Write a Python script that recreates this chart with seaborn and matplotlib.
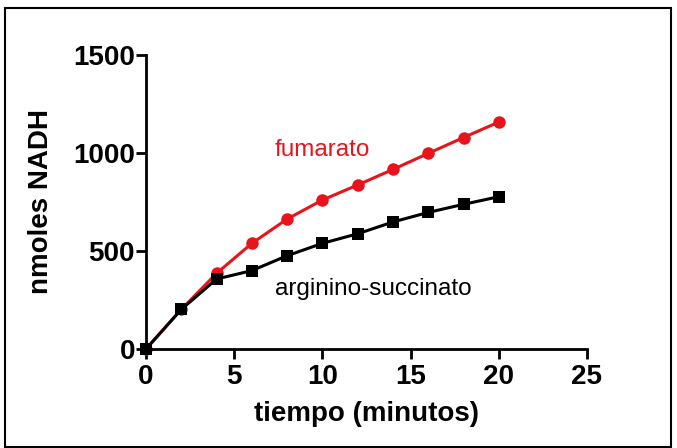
import matplotlib
matplotlib.use("Agg")
import matplotlib.pyplot as plt
import seaborn as sns
import pandas as pd
from matplotlib.patches import Rectangle

tiempo = [0, 2, 4, 6, 8, 10, 12, 14, 16, 18, 20]
fumarato = [0, 202, 386, 539, 663, 760, 837, 916, 998, 1079, 1158]
arginino = [0, 202, 357, 400, 476, 539, 588, 648, 697, 738, 777]
xticks = [0, 5, 10, 15, 20, 25]
yticks = [0, 500, 1000, 1500]

sns.set_theme(style="ticks", rc={"text.color": "black", "axes.labelcolor": "black",
                                 "xtick.color": "black", "ytick.color": "black",
                                 "axes.edgecolor": "black"})
plt.rcParams['font.family'] = ['Liberation Sans', 'DejaVu Sans']

df = pd.DataFrame({
    "tiempo": tiempo * 2,
    "nadh": fumarato + arginino,
    "serie": ["fumarato"] * len(tiempo) + ["arginino-succinato"] * len(tiempo),
})

fig = plt.figure(figsize=(6.77, 4.48), dpi=100)
ax = fig.add_axes([146/677, 1 - 349/448, (587-146)/677, (349-55)/448])

sns.lineplot(data=df, x="tiempo", y="nadh", hue="serie", style="serie",
             palette={"fumarato": "#e8141c", "arginino-succinato": "black"},
             markers={"fumarato": "o", "arginino-succinato": "s"},
             dashes=False, markersize=9, markeredgewidth=0, linewidth=2.2,
             legend=False, ax=ax)
for ln in ax.lines:
    ln.set_clip_on(False)

ax.set_xlim(0, 25)
ax.set_ylim(0, 1500)
ax.set_xticks(xticks)
ax.set_yticks(yticks)
ax.set_xticklabels([str(t) for t in xticks], fontsize=20, fontweight="bold")
ax.set_yticklabels([str(t) for t in yticks], fontsize=20, fontweight="bold")
ax.tick_params(axis="both", width=2, length=7, color="black", labelcolor="black")
ax.tick_params(axis="x", pad=4)
ax.tick_params(axis="y", pad=1)
ax.set_xlabel("tiempo (minutos)", fontsize=20, fontweight="bold", labelpad=8, color="black")
ax.set_ylabel("nmoles NADH", fontsize=20, fontweight="bold", labelpad=14, color="black")
for s in ["left", "bottom"]:
    ax.spines[s].set_linewidth(2)
    ax.spines[s].set_color("black")
sns.despine(ax=ax)

ax.text(10.0, 1015, "fumarato", color="#e8141c", fontsize=17.5, ha="center", va="center")
ax.text(12.9, 306, "arginino-succinato", color="black", fontsize=17.5, ha="center", va="center")

fig.patches.append(Rectangle((5/677, 1/448), 666/677, 439/448, transform=fig.transFigure,
                             fill=False, edgecolor="black", linewidth=1.5))

fig.savefig("out.png", dpi=100)
